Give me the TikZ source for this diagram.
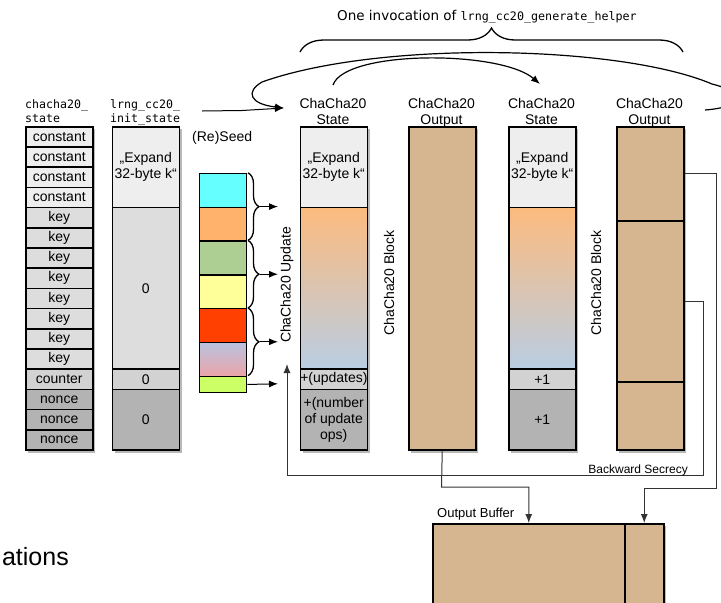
\documentclass[tikz,border=0pt]{standalone}
\usepackage{fontspec}
\setmainfont{Liberation Sans}
\newfontfamily\mydjv{DejaVu Sans}
\newfontfamily\mymono{DejaVu Sans Mono}
\usetikzlibrary{arrows.meta,decorations.pathreplacing}
\definecolor{cconst}{HTML}{EEEEEE}
\definecolor{ckey}{HTML}{DDDDDD}
\definecolor{ccount}{HTML}{D2D2D2}
\definecolor{cnonce}{HTML}{B3B3B3}
\definecolor{ctanx}{HTML}{D5B690}
\definecolor{gOr}{HTML}{FCBB7E}
\definecolor{gBl}{HTML}{B9CDE3}
\definecolor{shad}{HTML}{B8B8B8}
\definecolor{lnc}{HTML}{333333}
\definecolor{cCyan}{HTML}{66FFFF}
\definecolor{cOrange}{HTML}{FFB26B}
\definecolor{cGreen}{HTML}{AECF94}
\definecolor{cYellow}{HTML}{FFFF99}
\definecolor{cRed}{HTML}{FF4000}
\definecolor{pkA}{HTML}{B9C3DF}
\definecolor{pkB}{HTML}{EBA3A8}
\definecolor{cLime}{HTML}{CCFF66}
\newcommand\cellfont{\fontsize{14}{16}\selectfont}
\newcommand\smallmonofont{\mymono\fontsize{11.6}{13.6}\selectfont}
\begin{document}
\begin{tikzpicture}[x=1pt,y=-1pt,
  seg/.style={draw=black,line width=1.5pt,inner sep=0pt,minimum width=67pt,anchor=north west,align=center,font=\cellfont},
  hdr/.style={anchor=north,align=center,inner sep=0pt,font=\cellfont},
  mlbl/.style={anchor=north west,align=left,inner sep=0pt,font=\smallmonofont},
  rot/.style={rotate=90,inner sep=0pt,font=\cellfont},
  tip/.style={-{Latex[length=9pt,width=7pt]}},
  blk/.style={draw=black,line width=1.3pt,inner sep=0pt,minimum width=47pt,anchor=north west},
  conn/.style={draw=lnc,line width=1pt},
  arcline/.style={draw=black,line width=1.2pt},
  brc/.style={decorate,draw=black,line width=1.3pt},
]
\useasboundingbox (0,0) rectangle (721,603);
\clip (0,0) rectangle (721,603);

% title and brace
\node[anchor=base west,inner sep=0pt] (title) at (337,20) {{\mydjv\fontsize{13.5}{16}\selectfont One invocation of }{\mymono\fontsize{11.7}{14}\selectfont lrng\_cc20\_generate\_helper}};
\draw[brc,decoration={brace,amplitude=24pt}] (300,52) -- (683,52);

% labels
\node[mlbl] (l1) at (25,99.5) {chacha20\_\\state};
\node[mlbl] (l2) at (110,99.5) {lrng\_cc20\_\\init\_state};
\node[hdr] (h1) at (333,98) {ChaCha20\\State};
\node[hdr] (h2) at (441.5,98) {ChaCha20\\Output};
\node[hdr] (h3) at (541.5,98) {ChaCha20\\State};
\node[hdr] (h4) at (649.5,98) {ChaCha20\\Output};
\node[anchor=base west,inner sep=0pt,font=\cellfont] (reseed) at (192,141.5) {(Re)Seed};

% shadows
\fill[shad] (28,129) rectangle (95,452.5);
\fill[shad] (114.5,129) rectangle (181.5,452.5);
\fill[shad] (302.5,129) rectangle (369.5,452.5);
\fill[shad] (411,129) rectangle (478,452.5);
\fill[shad] (511,129) rectangle (578,452.5);
\fill[shad] (619,129) rectangle (686,452.5);
\fill[shad] (435,526) rectangle (666,640);

% chacha20_state column
\foreach \i/\t/\c in {0/constant/cconst,1/constant/cconst,2/constant/cconst,3/constant/cconst,
  4/key/ckey,5/key/ckey,6/key/ckey,7/key/ckey,8/key/ckey,9/key/ckey,10/key/ckey,11/key/ckey,
  12/counter/ccount,13/nonce/cnonce,14/nonce/cnonce,15/nonce/cnonce}
  \node[seg,fill=\c,minimum height=20.2pt] (cs\i) at (25,{126+20.2*\i}) {\t};

% init state column
\node[seg,fill=cconst,minimum height=80.8pt] (is1) at (111.5,126) {„Expand\\32-byte k“};
\node[seg,fill=ckey,minimum height=161.6pt] (is2) at (111.5,206.8) {0};
\node[seg,fill=ccount,minimum height=20.2pt] (is3) at (111.5,368.4) {0};
\node[seg,fill=cnonce,minimum height=60.6pt] (is4) at (111.5,388.6) {0};

% state column 1
\node[seg,fill=cconst,minimum height=80.8pt] (sa1) at (299.5,126) {„Expand\\32-byte k“};
\node[seg,top color=gOr,bottom color=gBl,minimum height=161.6pt] (sa2) at (299.5,206.8) {};
\node[seg,fill=ccount,minimum height=20.2pt] (sa3) at (299.5,368.4) {+(updates)};
\node[seg,fill=cnonce,minimum height=60.6pt] (sa4) at (299.5,388.6) {+(number\\of update\\ops)};

% output column 1
\node[seg,fill=ctanx,minimum height=323.2pt] (oc1) at (408,126) {};

% state column 2
\node[seg,fill=cconst,minimum height=80.8pt] (sb1) at (508,126) {„Expand\\32-byte k“};
\node[seg,top color=gOr,bottom color=gBl,minimum height=161.6pt] (sb2) at (508,206.8) {};
\node[seg,fill=ccount,minimum height=20.2pt] (sb3) at (508,368.4) {+1};
\node[seg,fill=cnonce,minimum height=60.6pt] (sb4) at (508,388.6) {+1};

% output column 2
\node[seg,fill=ctanx,minimum height=94pt] (oc2a) at (616,126) {};
\node[seg,fill=ctanx,minimum height=161pt] (oc2b) at (616,220) {};
\node[seg,fill=ctanx,minimum height=68.2pt] (oc2c) at (616,381) {};

% rotated labels
\node[rot] (updlbl) at (287,285) {ChaCha20 Update};
\node[rot] (blk1) at (389,283) {ChaCha20 Block};
\node[rot] (blk2) at (596,283) {ChaCha20 Block};

% seed blocks
\node[blk,fill=cCyan,minimum height=33.8pt] (b0) at (199,172.8) {};
\node[blk,fill=cOrange,minimum height=33.8pt] (b1) at (199,206.6) {};
\node[blk,fill=cGreen,minimum height=33.8pt] (b2) at (199,240.4) {};
\node[blk,fill=cYellow,minimum height=33.8pt] (b3) at (199,274.2) {};
\node[blk,fill=cRed,minimum height=33.8pt] (b4) at (199,308) {};
\node[blk,top color=pkA,bottom color=pkB,minimum height=33.8pt] (b5) at (199,341.8) {};
\node[blk,fill=cLime,minimum height=16.4pt] (b6) at (199,375.6) {};

% braces on seed blocks
\draw[brc,decoration={brace,amplitude=11pt}] (248,172.8) -- (248,240.4);
\draw[brc,decoration={brace,amplitude=11pt}] (248,240.4) -- (248,308);
\draw[brc,decoration={brace,amplitude=11pt}] (248,308) -- (248,375.6);
\coordinate (a1s) at (260,206.6); \coordinate (a1e) at (278,206.6);
\coordinate (a2s) at (260,274.2); \coordinate (a2e) at (278,274.2);
\coordinate (a3s) at (260,341.8); \coordinate (a3e) at (278,341.8);
\coordinate (a4e) at (278,383.8);
\draw[line width=1pt,tip] (a1s) -- (a1e);
\draw[line width=1pt,tip] (a2s) -- (a2e);
\draw[line width=1pt,tip] (a3s) -- (a3e);
\draw[line width=1pt,tip] (b6.east) -- (a4e);

% arcs at top
\coordinate (stin) at (284,108);
\coordinate (bigstart) at (705,110);
\draw[arcline,tip] (bigstart) .. controls (745,107) and (745,92) .. (712,84) .. controls (620,45) and (380,40) .. (262,82) .. controls (245,92) and (250,104) .. (stin);
\coordinate (sstart) at (333,85);
\coordinate (send) at (540,84);
\draw[arcline,tip] (sstart) .. controls (345,50) and (500,50) .. (send);
\coordinate (initout) at (202,111);
\coordinate (initbend) at (242,110.5);
\draw[line width=1pt] (initout) -- (initbend);
\draw[line width=1pt,tip] (initbend) -- (stin);

% output buffer
\node[anchor=base west,inner sep=0pt,font=\fontsize{13}{15}\selectfont] (oblbl) at (437,517) {Output Buffer};
\node[seg,fill=ctanx,minimum width=192pt,minimum height=110pt] (ob1) at (432,523) {};
\node[seg,fill=ctanx,minimum width=39pt,minimum height=110pt] (ob2) at (624,523) {};

% connectors to output buffer
\coordinate (o1bend) at (441.5,487);
\draw[conn,tip] (oc1.south) -- (o1bend) -| (ob1.north);
\coordinate (o2bend) at (716,488);
\draw[conn,tip] (oc2a.east) -| (o2bend) -| (ob2.north);

% backward secrecy loop
\coordinate (upd) at (287,364);
\coordinate (bsbend) at (703,475);
\draw[conn,tip] (oc2b.east) -| (bsbend) -| (upd);
\node[anchor=base east,inner sep=0pt,font=\fontsize{12}{14}\selectfont] (bslbl) at (688,473.5) {Backward Secrecy};

% partial text bottom left
\node[anchor=base east,inner sep=0pt,font=\fontsize{25}{28}\selectfont] (ations) at (69,565) {ations};
\end{tikzpicture}
\end{document}
